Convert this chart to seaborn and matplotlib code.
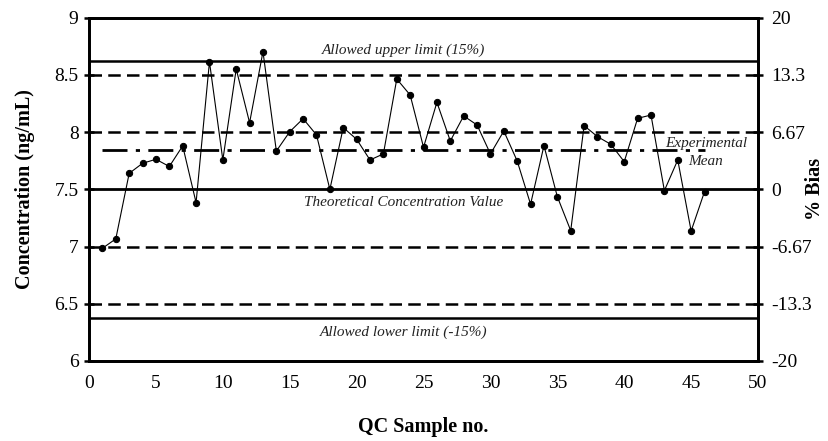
import numpy as np
import pandas as pd
import matplotlib
matplotlib.use("Agg")
import matplotlib.pyplot as plt
import seaborn as sns

sample_no = list(range(1, 47))
concentration = [6.985, 7.067, 7.64, 7.728, 7.763, 7.70, 7.88, 7.384, 8.616, 7.757,
                 8.552, 8.083, 8.704, 7.835, 8.004, 8.118, 7.976, 7.50, 8.04, 7.938,
                 7.757, 7.81, 8.465, 8.325, 7.868, 8.261, 7.923, 8.142, 8.063, 7.81,
                 8.01, 7.748, 7.37, 7.882, 7.436, 7.139, 8.057, 7.961, 7.894, 7.742,
                 8.121, 8.150, 7.489, 7.757, 7.136, 7.48]

theoretical = 7.5
upper_limit = 8.625
lower_limit = 6.375
dashed_levels = [8.5, 8.0, 7.0, 6.5]
experimental_mean = 7.845

left_ticks = [6, 6.5, 7, 7.5, 8, 8.5, 9]
left_labels = ["6", "6.5", "7", "7.5", "8", "8.5", "9"]
right_labels = ["-20", "-13.3", "-6.67", "0", "6.67", "13.3", "20"]
x_ticks = [0, 5, 10, 15, 20, 25, 30, 35, 40, 45, 50]

sns.set_theme(style="white")
plt.rcParams['font.family'] = ['Liberation Serif', 'DejaVu Serif']

df = pd.DataFrame({"QC Sample no.": sample_no, "Concentration": concentration})

fig = plt.figure(figsize=(8.29, 4.41), dpi=100)
ax = fig.add_axes([0.1074, 0.1816, 0.8070, 0.7780])

# reference lines
ax.axhline(upper_limit, color="black", lw=1.8, zorder=1)
ax.axhline(lower_limit, color="black", lw=1.8, zorder=1)
ax.axhline(theoretical, color="black", lw=2.0, zorder=1)
for lv in dashed_levels:
    ax.axhline(lv, color="black", lw=1.8, ls=(0, (5, 2.5)), zorder=1)
ax.hlines(experimental_mean, sample_no[0], sample_no[-1], color="black", lw=2.0,
          linestyles=[(0, (9, 3, 1.5, 3))], zorder=1)

sns.lineplot(data=df, x="QC Sample no.", y="Concentration", ax=ax, color="black",
             lw=0.8, marker="o", markersize=4.5, markeredgecolor="black",
             markerfacecolor="black", zorder=3)

ax.set_xlim(0, 50)
ax.set_ylim(6, 9)
ax.set_xticks(x_ticks)
ax.set_xticklabels([str(t) for t in x_ticks])
ax.set_yticks(left_ticks)
ax.set_yticklabels(left_labels)
ax.tick_params(axis="both", direction="inout", length=7, width=1.8, color="black",
               labelsize=14, labelcolor="black", pad=4)
ax.tick_params(axis="x", pad=7)
for s in ax.spines.values():
    s.set_color("black")
    s.set_linewidth(2.0)
ax.set_xlabel("QC Sample no.", fontsize=14.5, fontweight="bold", labelpad=18, color="black")
ax.set_ylabel("Concentration (ng/mL)", fontsize=14.5, fontweight="bold", labelpad=14, color="black")

ax2 = ax.twinx()
ax2.set_ylim(6, 9)
ax2.set_yticks(left_ticks)
ax2.set_yticklabels(right_labels)
ax2.tick_params(axis="y", direction="inout", length=7, width=1.8, color="black",
                labelsize=14, labelcolor="black", pad=6)
for s in ax2.spines.values():
    s.set_color("black")
    s.set_linewidth(2.0)
ax2.set_ylabel("% Bias", fontsize=14.5, fontweight="bold", labelpad=-5, color="black")
ax2.grid(False)

txt = dict(fontsize=11, style="italic", color="#222222", ha="center")
ax.text(23.5, 8.66, "Allowed upper limit (15%)", va="bottom", **txt)
ax.text(23.5, 7.44, "Theoretical Concentration Value", va="top", **txt)
ax.text(23.5, 6.31, "Allowed lower limit (-15%)", va="top", **txt)
ax.text(46.1, 7.905, "Experimental", va="center", **txt)
ax.text(46.1, 7.74, "Mean", va="center", **txt)

fig.savefig("out.png", dpi=100)
